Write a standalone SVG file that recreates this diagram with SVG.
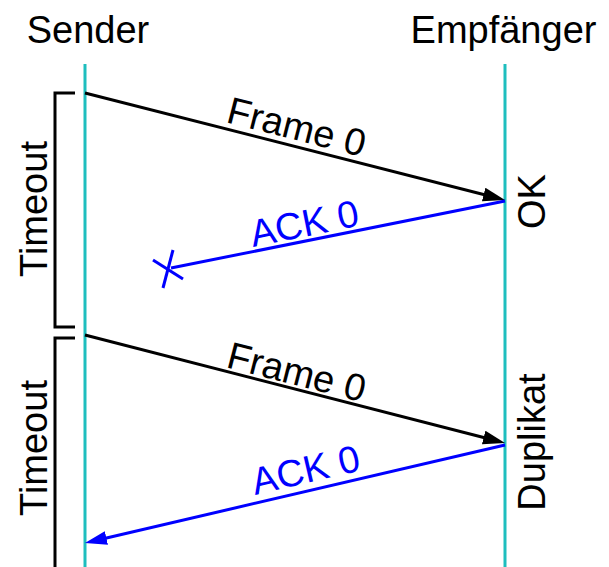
<svg xmlns="http://www.w3.org/2000/svg" width="609" height="567" viewBox="0 0 609 567">
<style>
text{font-family:"Liberation Sans",Arial,sans-serif;font-size:38px;fill:#000}
.b{fill:#0000ff}
.life{stroke:#1ebebe;stroke-width:3;fill:none}
.blk{stroke:#000;stroke-width:3;fill:none}
.blu{stroke:#0000ff;stroke-width:3;fill:none}
</style>
<defs>
<marker id="ak" markerUnits="userSpaceOnUse" markerWidth="24" markerHeight="16" refX="12" refY="7" orient="auto" viewBox="0 0 24 16">
<path d="M0,0 L22,7 L0,14 z" fill="#000"/>
</marker>
<marker id="ab" markerUnits="userSpaceOnUse" markerWidth="24" markerHeight="16" refX="12" refY="7" orient="auto" viewBox="0 0 24 16">
<path d="M0,0 L22,7 L0,14 z" fill="#0000ff"/>
</marker>
</defs>
<g id="sender">
<text x="88" y="43" text-anchor="middle">Sender</text>
<line class="life" x1="85" y1="64" x2="85" y2="567"/>
</g>
<g id="empfaenger">
<text x="503.5" y="43" text-anchor="middle">Empfänger</text>
<line class="life" x1="505" y1="64" x2="505" y2="567"/>
</g>
<g id="timeout1">
<path class="blk" d="M75,93 H55 V327 H75"/>
<text transform="translate(47,209) rotate(-90)" text-anchor="middle">Timeout</text>
</g>
<g id="timeout2">
<path class="blk" d="M75,338 H55 V567"/>
<text transform="translate(47,448) rotate(-90)" text-anchor="middle">Timeout</text>
</g>
<g id="ok">
<text transform="translate(545,201.5) rotate(-90)" text-anchor="middle">OK</text>
</g>
<g id="duplikat">
<text transform="translate(545,442) rotate(-90)" text-anchor="middle">Duplikat</text>
</g>
<g id="connectors">
<line class="blk" x1="85" y1="93" x2="495.3" y2="197.5" marker-end="url(#ak)"/>
<line class="blu" x1="505" y1="201" x2="171" y2="268"/>
<line class="blu" x1="173" y1="250" x2="163" y2="288"/>
<line class="blu" x1="153" y1="260" x2="183" y2="279"/>
<line class="blk" x1="85" y1="335" x2="495.3" y2="440.5" marker-end="url(#ak)"/>
<line class="blu" x1="505" y1="445" x2="94.7" y2="540.7" marker-end="url(#ab)"/>
<text transform="translate(225,122) rotate(14.3)">Frame 0</text>
<text class="b" transform="translate(253,247) rotate(-11.3)">ACK 0</text>
<text transform="translate(225,367) rotate(14.4)">Frame 0</text>
<text class="b" transform="translate(255,495) rotate(-13.1)">ACK 0</text>
</g>
</svg>
